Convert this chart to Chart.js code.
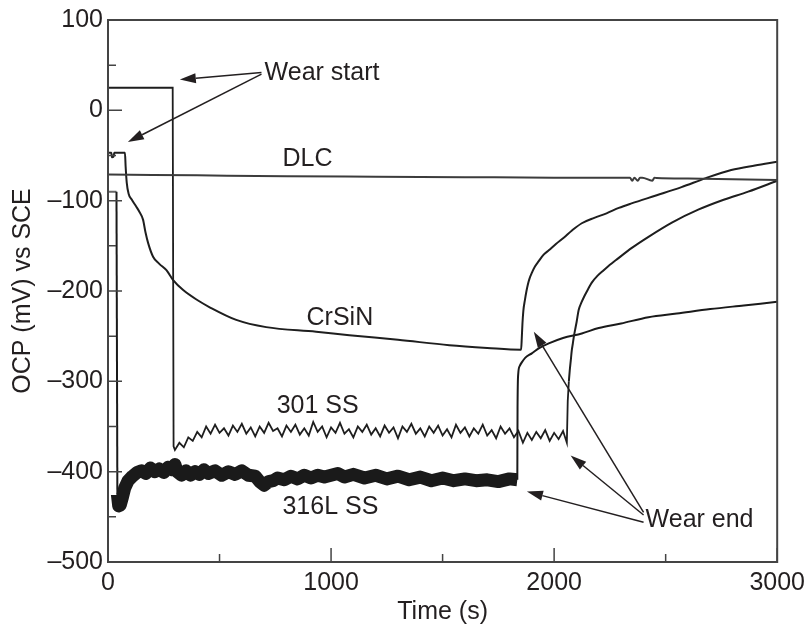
<!DOCTYPE html>
<html>
<head>
<meta charset="utf-8">
<script src="https://cdn.jsdelivr.net/npm/chart.js@4.4.1/dist/chart.umd.min.js"></script>
<style>
  body { margin: 0; background: #fff; }
  #wrap { width: 811px; height: 630px; }
</style>
</head>
<body>
<div id="wrap"><canvas id="myChart"></canvas></div>
<script>
// time (s) / OCP (mV vs SCE)
let dlcT = [0, 400, 800, 1200, 1600, 2000, 2340, 2350, 2360, 2375, 2385, 2395, 2440, 2450, 2460, 2600, 3000];
let dlcV = [-71, -72, -73, -73.5, -74, -74.5, -74.5, -78, -74.5, -78, -74.5, -74.5, -78, -74.5, -75, -75.5, -77];

let crsinT = [0, 15, 18, 25, 28, 76, 79, 84, 92, 107, 125, 140, 157, 168, 180, 202, 230, 262, 292, 337, 400, 456, 575, 709, 933, 1082, 1300, 1530, 1700, 1852,
  1855, 1858, 1862, 1869, 1876, 1882, 1890, 1900, 1914, 1931, 1952, 1976, 2008, 2043, 2080, 2124, 2180, 2235, 2290, 2347, 2460, 2571, 2680, 2794, 2900, 3000];
let crsinV = [-47, -47, -52, -51, -47, -47, -62, -80, -92, -99, -106, -112, -121, -135, -147, -162, -170, -177, -188, -199, -210, -218, -232, -240, -245, -249, -254, -260, -263, -265,
  -252, -236, -222, -210, -200, -193, -186, -180, -173, -167, -160, -155, -148, -141, -133, -125, -119, -114, -108, -103, -94, -85, -75, -66, -61, -57];

// 301 SS: step at wear start, noisy wear plateau, then recovery (from index 93)
let ss301T = [0, 290, 294, 300, 320, 340, 360, 380, 400, 420, 440, 460, 480, 500, 520, 540, 560, 580, 600, 620, 640, 660, 680, 700, 720, 740, 760, 780, 800,
  820, 840, 860, 880, 900, 920, 940, 960, 980, 1000, 1020, 1040, 1060, 1080, 1100, 1120, 1140, 1160, 1180, 1200, 1220, 1240, 1260, 1280, 1300,
  1320, 1340, 1360, 1380, 1400, 1420, 1440, 1460, 1480, 1500, 1520, 1540, 1560, 1580, 1600, 1620, 1640, 1660, 1680, 1700, 1720, 1740, 1760,
  1780, 1800, 1820, 1840, 1860, 1880, 1900, 1920, 1940, 1960, 1980, 2000, 2020, 2040, 2057,
  2061, 2066, 2070, 2075, 2079, 2084, 2088, 2094, 2101, 2110, 2122, 2137, 2152, 2168, 2195, 2222, 2250, 2276, 2350, 2423, 2530, 2646, 2760, 2870, 3000];
let ss301V = [25, 25, -372, -376, -368, -373, -362, -366, -356, -362, -350, -358, -348, -357, -352, -360, -349, -356, -347, -358, -351, -361, -350, -357, -346, -355, -352, -361, -349,
  -356, -348, -359, -352, -360, -345, -356, -350, -362, -351, -357, -346, -358, -353, -362, -350, -356, -348, -359, -352, -361, -349, -357, -351, -363,
  -350, -356, -347, -358, -352, -361, -350, -357, -349, -360, -353, -362, -348, -357, -351, -361, -352, -358, -348, -360, -354, -363, -350,
  -358, -352, -362, -355, -368, -357, -365, -356, -363, -354, -366, -357, -364, -355, -368,
  -322, -300, -288, -276, -266, -258, -251, -243, -234, -221, -213, -205, -198, -191, -183, -177, -171, -166, -152, -140, -124, -110, -99, -90, -78];
let ss301Split = 93;

// 316L SS: thick noisy band during wear, recovery from index 66
let ss316T = [0, 33, 38, 42, 48, 55, 65, 75, 90, 110, 130, 150, 170, 190, 210, 230, 250, 270, 290, 300, 310, 330, 350, 370, 390, 410, 430, 450, 480,
  510, 540, 570, 600, 630, 660, 680, 700, 720, 740, 760, 790, 820, 850, 880, 910, 940, 970, 1000, 1030, 1060, 1100, 1150, 1200, 1250, 1300,
  1350, 1400, 1450, 1500, 1550, 1600, 1650, 1700, 1750, 1800, 1835,
  1836, 1839, 1846, 1855, 1870, 1900, 1935, 1976, 2040, 2124, 2200, 2300, 2423, 2550, 2700, 2850, 3000];
let ss316V = [-90, -90, -90, -425, -438, -437, -428, -418, -410, -405, -401, -399, -402, -396, -400, -397, -401, -395, -398, -392, -400, -404, -399, -404, -400, -403, -398, -402, -399,
  -404, -400, -403, -399, -404, -405, -411, -415, -411, -410, -407, -409, -405, -408, -404, -407, -404, -406, -404, -402, -406, -403, -407, -404, -408, -405,
  -409, -406, -410, -407, -410, -408, -410, -409, -411, -408, -409,
  -330, -292, -283, -279, -274, -269, -263, -258, -252, -247, -241, -236, -229, -225, -220, -216, -212];
let ss316Split = 65;

let xTicks = [0, 1000, 2000, 3000];
let yTicks = [100, 0, -100, -200, -300, -400, -500];

// labels and arrows, in data units
let labels = [
  { text: 'Wear start', x: 702, y: 34 },
  { text: 'DLC', x: 782, y: -62 },
  { text: 'CrSiN', x: 890, y: -238 },
  { text: '301 SS', x: 756, y: -335 },
  { text: '316L SS', x: 782, y: -447 },
  { text: 'Wear end', x: 2410, y: -461 }
];
let arrows = [
  [688, 42, 322, 34],
  [688, 40, 89, -35],
  [2401, -456, 1878, -422],
  [2401, -448, 2074, -382],
  [2401, -445, 1909, -245]
];

const FONT = "'Liberation Sans', Arial, sans-serif";
const INK = '#231f20';

function pts(t, v, from, to) {
  let out = [];
  for (let i = from; i < to; i++) out.push({ x: t[i], y: v[i] });
  return out;
}

const decor = {
  id: 'decor',
  afterDatasetsDraw(chart) {
    const ctx = chart.ctx;
    const a = chart.chartArea;
    const xs = chart.scales.x, ys = chart.scales.y;
    ctx.save();
    // frame
    ctx.strokeStyle = '#444';
    ctx.lineWidth = 2;
    ctx.strokeRect(a.left, a.top, a.right - a.left, a.bottom - a.top);
    // inward ticks
    ctx.lineWidth = 1.5;
    ctx.beginPath();
    for (let v = -500; v <= 100; v += 50) {
      let py = ys.getPixelForValue(v);
      let len = (v % 100 === 0) ? 14 : 8;
      ctx.moveTo(a.left, py);
      ctx.lineTo(a.left + len, py);
    }
    for (let v = 0; v <= 3000; v += 500) {
      let px = xs.getPixelForValue(v);
      let len = (v % 1000 === 0) ? 14 : 8;
      ctx.moveTo(px, a.bottom);
      ctx.lineTo(px, a.bottom - len);
    }
    ctx.stroke();
    // labels
    ctx.fillStyle = INK;
    ctx.font = '25px ' + FONT;
    ctx.textBaseline = 'alphabetic';
    ctx.textAlign = 'left';
    labels.forEach(l => {
      ctx.fillText(l.text, xs.getPixelForValue(l.x), ys.getPixelForValue(l.y));
    });
    // arrows
    ctx.strokeStyle = INK;
    ctx.lineWidth = 1.5;
    arrows.forEach(r => {
      let x0 = xs.getPixelForValue(r[0]), y0 = ys.getPixelForValue(r[1]);
      let x1 = xs.getPixelForValue(r[2]), y1 = ys.getPixelForValue(r[3]);
      let ang = Math.atan2(y1 - y0, x1 - x0);
      let hl = 16, hw = 5;
      let bx = x1 - hl * Math.cos(ang), by = y1 - hl * Math.sin(ang);
      ctx.beginPath();
      ctx.moveTo(x0, y0);
      ctx.lineTo(bx, by);
      ctx.stroke();
      ctx.beginPath();
      ctx.moveTo(x1, y1);
      ctx.lineTo(bx + hw * Math.sin(ang), by - hw * Math.cos(ang));
      ctx.lineTo(bx - hw * Math.sin(ang), by + hw * Math.cos(ang));
      ctx.closePath();
      ctx.fill();
    });
    ctx.restore();
  }
};

let ctx = document.querySelector('#myChart').getContext('2d');
let myChart = new Chart(ctx, {
  type: 'line',
  data: {
    datasets: [
      {
        label: 'DLC',
        data: pts(dlcT, dlcV, 0, dlcT.length),
        borderColor: '#3c3c3c',
        borderWidth: 2,
        cubicInterpolationMode: 'monotone'
      },
      {
        label: 'CrSiN',
        data: pts(crsinT, crsinV, 0, crsinT.length),
        borderColor: '#1e1e1e',
        borderWidth: 2,
        cubicInterpolationMode: 'monotone'
      },
      {
        label: '301 SS',
        data: pts(ss301T, ss301V, 0, ss301Split + 1),
        borderColor: '#1e1e1e',
        borderWidth: 1.8,
        tension: 0
      },
      {
        label: '301 SS recovery',
        data: pts(ss301T, ss301V, ss301Split, ss301T.length),
        borderColor: '#1e1e1e',
        borderWidth: 2,
        cubicInterpolationMode: 'monotone'
      },
      {
        label: '316L SS',
        data: pts(ss316T, ss316V, 0, ss316Split + 1),
        borderColor: '#1a1a1a',
        borderWidth: 2,
        borderJoinStyle: 'round',
        tension: 0,
        segment: {
          borderWidth: c => (c.p0.parsed.x >= 42) ? 13 : 2,
          borderColor: c => (c.p1.parsed.x <= 38) ? '#666' : '#1a1a1a'
        }
      },
      {
        label: '316L SS recovery',
        data: pts(ss316T, ss316V, ss316Split, ss316T.length),
        borderColor: '#1a1a1a',
        borderWidth: 2,
        cubicInterpolationMode: 'monotone'
      }
    ]
  },
  options: {
    responsive: true,
    maintainAspectRatio: false,
    animation: false,
    layout: { padding: { top: 20, right: 32, left: 0, bottom: 0 } },
    elements: { point: { radius: 0 } },
    plugins: {
      legend: { display: false },
      tooltip: { enabled: false }
    },
    scales: {
      x: {
        type: 'linear',
        min: 0,
        max: 3000,
        afterBuildTicks: s => { s.ticks = xTicks.map(v => ({ value: v })); },
        afterFit: s => { s.height = 68; },
        grid: { display: false, drawTicks: false },
        border: { display: false },
        ticks: {
          color: INK,
          font: { family: FONT, size: 25 },
          padding: 6,
          maxRotation: 0,
          callback: v => String(v)
        },
        title: {
          display: true,
          text: 'Time (s)',
          color: INK,
          font: { family: FONT, size: 25 },
          padding: { top: 0, bottom: 3 }
        }
      },
      y: {
        type: 'linear',
        min: -500,
        max: 100,
        afterBuildTicks: s => { s.ticks = yTicks.map(v => ({ value: v })); },
        afterFit: s => { s.width = 108; },
        grid: { display: false, drawTicks: false },
        border: { display: false },
        ticks: {
          color: INK,
          font: { family: FONT, size: 25 },
          padding: 5,
          callback: v => (v < 0 ? '\u2013' + Math.abs(v) : String(v))
        },
        title: {
          display: true,
          text: 'OCP (mV) vs SCE',
          color: INK,
          font: { family: FONT, size: 25 },
          padding: { top: 8, bottom: 0 }
        }
      }
    }
  },
  plugins: [decor]
});
</script>
</body>
</html>
